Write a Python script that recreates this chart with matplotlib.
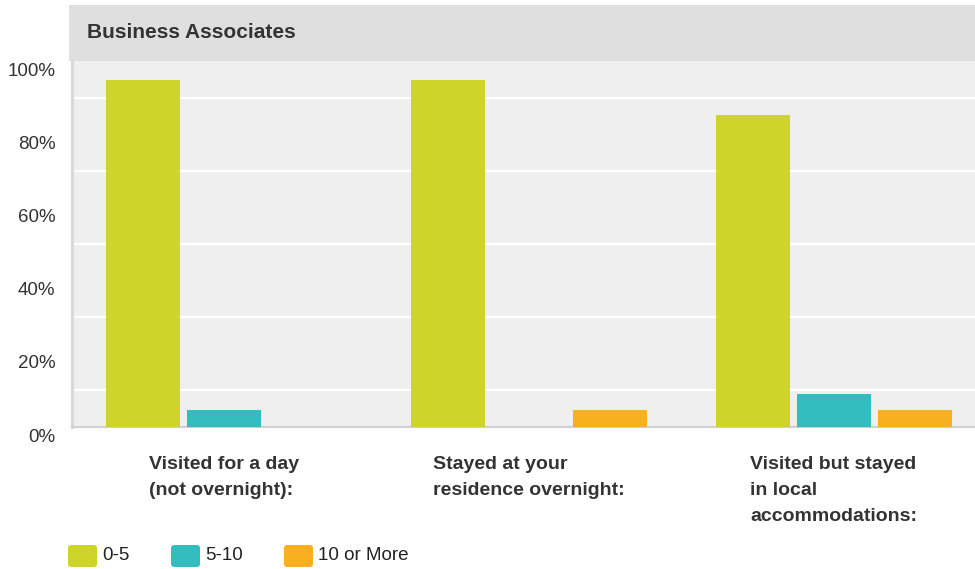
import matplotlib.pyplot as plt
import numpy as np
from matplotlib.patches import FancyBboxPatch, Rectangle
from matplotlib.transforms import ScaledTranslation

plt.rcParams['font.family'] = ['Liberation Sans', 'DejaVu Sans']

# survey results (percent of respondents)
categories = ['Visited for a day\n(not overnight):',
              'Stayed at your\nresidence overnight:',
              'Visited but stayed\nin local\naccommodations:']
series = ['0-5', '5-10', '10 or More']
visits_0_5 = [94.8, 94.8, 85.2]
visits_5_10 = [4.7, 0.0, 9.1]
visits_10_more = [0.0, 4.7, 4.7]
values = [visits_0_5, visits_5_10, visits_10_more]
colors = ['#cfd42a', '#33bdbf', '#f8af20']

W, H = 975, 569
fig = plt.figure(figsize=(W / 100, H / 100), dpi=100)

# pixel-space layer for the header band and the legend
bg = fig.add_axes([0, 0, 1, 1])
bg.set_xlim(0, W)
bg.set_ylim(H, 0)
bg.axis('off')
bg.add_patch(Rectangle((69, 5), W - 69, 56, color='#dfdfdf', lw=0))
bg.text(87, 32, 'Business Associates', fontsize=15, fontweight='bold',
        color='#333333', va='center')

legend_x = [68, 171, 284]
for lx, name, c in zip(legend_x, series, colors):
    bg.add_patch(FancyBboxPatch((lx, 545), 29, 22,
                                boxstyle='round,pad=0,rounding_size=3',
                                fc=c, ec='none'))
    bg.text(lx + 34, 555.5, name, fontsize=13.5, color='#222222', va='center')

# main plot: each group slot is 305 px wide
left, right, top, bottom = 71.5, 975, 61, 427
slot = 305.0
ax = fig.add_axes([left / W, 1 - bottom / H, (right - left) / W, (bottom - top) / H])
ax.set_facecolor('#efefef')
ax.set_xlim(-0.5, -0.5 + (right - left) / slot)
ax.set_ylim(0, 100)

x = np.arange(len(categories))
offsets = np.array([-81, 0, 81]) / slot
width = 74 / slot
for vals, off, c in zip(values, offsets, colors):
    ax.bar(x + off, vals, width=width, color=c, zorder=3)

ax.set_yticks(np.arange(0, 101, 20))
ax.set_yticklabels([f'{v}%' for v in range(0, 101, 20)])
ax.set_yticks(np.arange(10, 100, 10), minor=True)
ax.grid(which='minor', axis='y', color='white', lw=1.6)
ax.set_axisbelow(True)
ax.tick_params(which='both', length=0)
ax.tick_params(axis='y', labelsize=13.5, labelcolor='#333333', pad=11.5)
shift = ScaledTranslation(0, -8 / 100, fig.dpi_scale_trans)
for lbl in ax.get_yticklabels():
    lbl.set_transform(lbl.get_transform() + shift)

ax.set_xticks(x)
ax.set_xticklabels(categories, fontsize=14, fontweight='bold', color='#333333',
                   linespacing=1.67)
ax.tick_params(axis='x', pad=21)
for lbl in ax.get_xticklabels():
    lbl.set_multialignment('left')

for s in ['top', 'right']:
    ax.spines[s].set_visible(False)
ax.spines['left'].set_color('#d9d9d9')
ax.spines['left'].set_linewidth(2.2)
ax.spines['bottom'].set_color('#d0d0d0')
ax.spines['bottom'].set_linewidth(1.5)

fig.savefig('out.png', dpi=100, facecolor='white')
